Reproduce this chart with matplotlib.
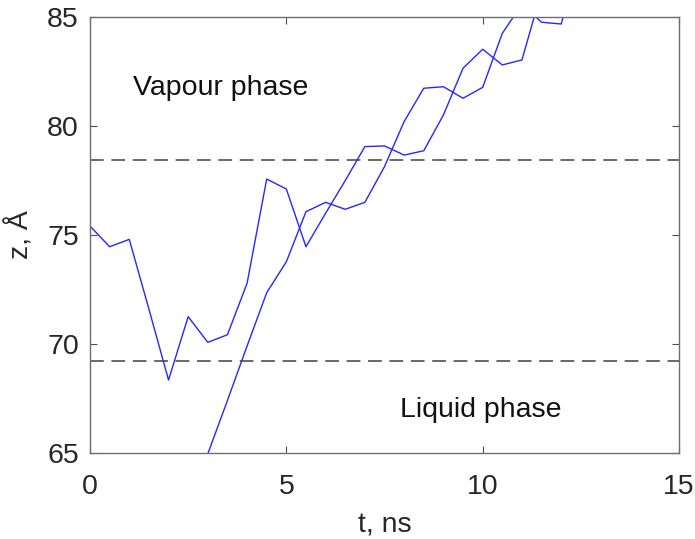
import numpy as np
import matplotlib
matplotlib.use("Agg")
import matplotlib.pyplot as plt

plt.rcParams['font.family'] = ['Liberation Sans', 'DejaVu Sans']

# trajectory 1 (starts in the liquid, 0.5 ns steps)
t1 = [0.0, 0.5, 1.0, 1.5, 2.0, 2.5, 3.0, 3.5, 4.0, 4.5, 5.0, 5.5, 6.0, 6.5,
      7.0, 7.5, 8.0, 8.5, 9.0, 9.5, 10.0, 10.5, 11.0, 11.5, 12.0]
z1 = [75.41, 74.46, 74.80, 71.6, 68.34, 71.25, 70.07, 70.42, 72.78, 77.57,
      77.11, 74.46, 76.0, 77.5, 79.06, 79.09, 78.67, 78.87, 80.51, 82.66,
      83.53, 82.81, 83.04, 86.2, 88.0]

# trajectory 2 (enters from below)
t2 = [2.5, 3.0, 3.5, 4.0, 4.5, 5.0, 5.5, 6.0, 6.5, 7.0, 7.5, 8.0, 8.5, 9.0,
      9.5, 10.0, 10.5, 11.0, 11.5, 12.0, 12.5]
z2 = [62.4, 64.95, 67.4, 69.9, 72.35, 73.77, 76.07, 76.50, 76.18, 76.50,
      78.14, 80.21, 81.74, 81.81, 81.28, 81.78, 84.26, 85.6, 84.77, 84.69, 88.0]

# interface boundaries
z_upper = 78.43
z_lower = 69.21

fs = 20.5

fig = plt.figure(figsize=(6.95, 5.39), dpi=100)
ax = fig.add_axes([0.1295, 0.160, 0.8475, 0.808])

ax.plot(t1, z1, color=(0.15, 0.15, 1.0), lw=1.0)
ax.plot(t2, z2, color=(0.15, 0.15, 1.0), lw=1.0)
ax.axhline(z_upper, color='#404040', lw=1.1, dashes=(9, 5))
ax.axhline(z_lower, color='#404040', lw=1.1, dashes=(9, 5))

ax.text(1.1, 81.75, 'Vapour phase', fontsize=fs, va='center', color='#111111')
ax.text(7.9, 66.95, 'Liquid phase', fontsize=fs, va='center', color='#111111')

ax.set_xlim(0, 15)
ax.set_ylim(65, 85)
ax.set_xticks([0, 5, 10, 15])
ax.set_yticks([65, 70, 75, 80, 85])
ax.tick_params(direction='in', top=True, right=True, length=5, width=0.8,
               color='#4d4d4d', labelsize=fs, labelcolor='#262626')
ax.tick_params(axis='x', pad=15)
ax.tick_params(axis='y', pad=8)
for s in ax.spines.values():
    s.set_color('#6e6e6e')
    s.set_linewidth(1.0)

ax.set_xlabel('t, ns', fontsize=fs, color='#262626', labelpad=9)
ax.set_ylabel('z, Å', fontsize=fs, color='#262626', labelpad=9)

plt.savefig('out.png', dpi=100)
